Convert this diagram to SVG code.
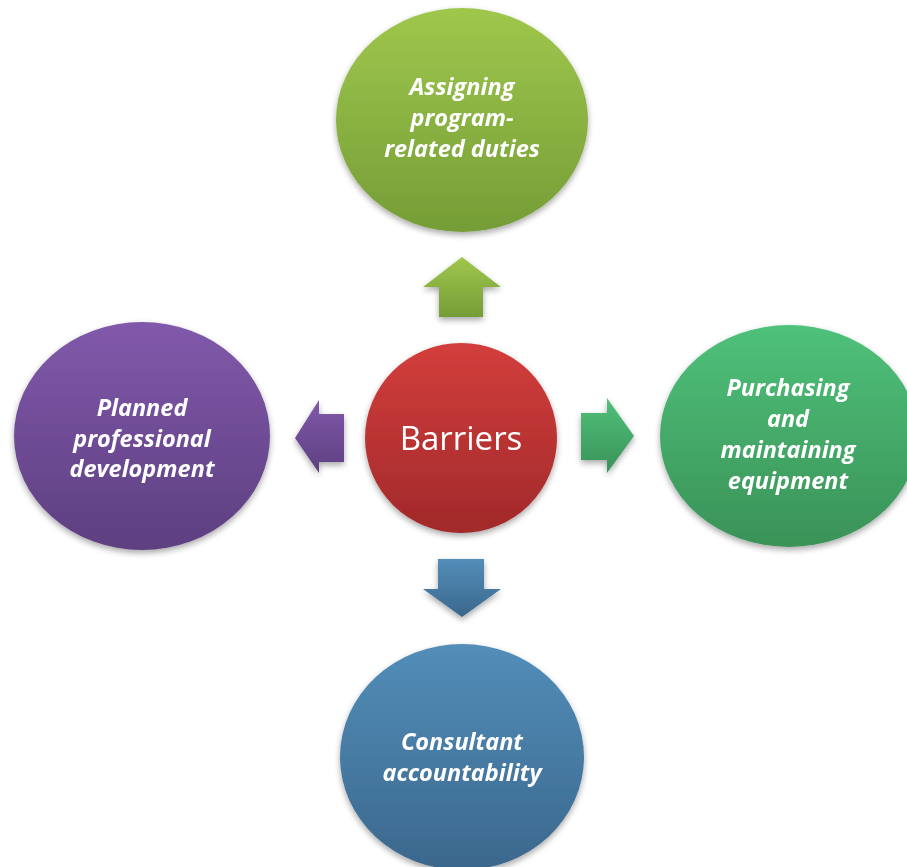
<svg xmlns="http://www.w3.org/2000/svg" width="907" height="867" viewBox="0 0 907 867">
  <defs>
    <linearGradient id="gGreen" x1="0" y1="0" x2="0" y2="1">
      <stop offset="0" stop-color="#9fc74c"/>
      <stop offset="1" stop-color="#759d37"/>
    </linearGradient>
    <linearGradient id="gRed" x1="0" y1="0" x2="0" y2="1">
      <stop offset="0" stop-color="#d33e3c"/>
      <stop offset="1" stop-color="#a1292a"/>
    </linearGradient>
    <linearGradient id="gPurple" x1="0" y1="0" x2="0" y2="1">
      <stop offset="0" stop-color="#8159ab"/>
      <stop offset="1" stop-color="#5d3f80"/>
    </linearGradient>
    <linearGradient id="gEmerald" x1="0" y1="0" x2="0" y2="1">
      <stop offset="0" stop-color="#4fc17a"/>
      <stop offset="1" stop-color="#3a9258"/>
    </linearGradient>
    <linearGradient id="gBlue" x1="0" y1="0" x2="0" y2="1">
      <stop offset="0" stop-color="#528eb9"/>
      <stop offset="1" stop-color="#3b678c"/>
    </linearGradient>
    <filter id="shadow" x="-20%" y="-20%" width="140%" height="150%">
      <feGaussianBlur in="SourceAlpha" stdDeviation="3"/>
      <feOffset dx="0" dy="3" result="b"/>
      <feComponentTransfer><feFuncA type="linear" slope="0.35"/></feComponentTransfer>
      <feMerge><feMergeNode/><feMergeNode in="SourceGraphic"/></feMerge>
    </filter>
  </defs>
  <style>
    .lbl { font-family: "Open Sans", "Noto Sans", "Liberation Sans", sans-serif; font-weight: bold; font-style: italic; font-size: 23.5px; fill: #ffffff; text-anchor: middle; }
    .hub { font-family: "Open Sans", "Noto Sans", "Liberation Sans", sans-serif; font-size: 33px; fill: #ffffff; text-anchor: middle; }
  </style>
  <rect width="907" height="867" fill="#ffffff"/>

  <!-- arrows from the hub -->
  <g id="connectors" filter="url(#shadow)">
    <polygon points="462,257 501,287 483,287 483,317 439,317 439,287 423,287" fill="url(#gGreen)"/>
    <polygon points="295,438 319,400 319,414 344,414 344,462 319,462 319,473" fill="url(#gPurple)"/>
    <polygon points="634,436 607,398 607,413 581,413 581,460 607,460 607,473" fill="url(#gEmerald)"/>
    <polygon points="462,617 501,589 484,589 484,559 438,559 438,589 423,589" fill="url(#gBlue)"/>
  </g>

  <g id="hub" filter="url(#shadow)">
    <ellipse cx="461" cy="438" rx="96" ry="95" fill="url(#gRed)"/>
    <text class="hub" x="461" y="450">Barriers</text>
  </g>

  <g id="node-duties" filter="url(#shadow)">
    <ellipse cx="462" cy="120" rx="126" ry="112" fill="url(#gGreen)"/>
    <text class="lbl" x="462" y="95">Assigning</text>
    <text class="lbl" x="462" y="126">program-</text>
    <text class="lbl" x="462" y="157">related duties</text>
  </g>

  <g id="node-development" filter="url(#shadow)">
    <ellipse cx="142" cy="436" rx="128" ry="114" fill="url(#gPurple)"/>
    <text class="lbl" x="142" y="416">Planned</text>
    <text class="lbl" x="142" y="447">professional</text>
    <text class="lbl" x="142" y="477">development</text>
  </g>

  <g id="node-equipment" filter="url(#shadow)">
    <ellipse cx="789" cy="436" rx="129" ry="111" fill="url(#gEmerald)"/>
    <text class="lbl" x="788" y="396">Purchasing</text>
    <text class="lbl" x="788" y="427">and</text>
    <text class="lbl" x="788" y="458">maintaining</text>
    <text class="lbl" x="788" y="489">equipment</text>
  </g>

  <g id="node-accountability" filter="url(#shadow)">
    <ellipse cx="462" cy="757" rx="122" ry="113" fill="url(#gBlue)"/>
    <text class="lbl" x="462" y="750">Consultant</text>
    <text class="lbl" x="462" y="781">accountability</text>
  </g>
</svg>
